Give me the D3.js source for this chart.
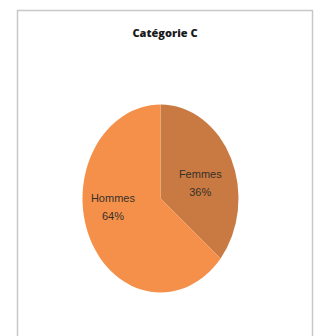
<!DOCTYPE html>
<html><head><meta charset="utf-8">
<script src="https://cdn.jsdelivr.net/npm/d3@7"></script>
<style>html,body{margin:0;padding:0;background:#fff;}svg{display:block;}</style>
</head><body>
<svg id="c" width="320" height="336"></svg>
<script>
const title = "Catégorie C";
const categories = ["Femmes", "Hommes"];
const values = [36, 64];
const colors = ["#C97A42", "#F5904A"];

const svg = d3.select("#c");
svg.append("rect").attr("x", 17.5).attr("y", 10.5).attr("width", 295).attr("height", 340)
  .attr("fill", "#fff").attr("stroke", "#c8c8c8").attr("stroke-width", 1.5);

svg.append("text").attr("x", 165).attr("y", 37).attr("text-anchor", "middle")
  .attr("font-family", "Open Sans, sans-serif").attr("font-weight", 800).attr("font-size", 11)
  .attr("fill", "#1a1a1a").text(title);

const cx = 160.5, cy = 198.5, rx = 78, ry = 94;
const pie = d3.pie().sort(null).value(d => d.v);
const arcs = pie(categories.map((c, i) => ({c, v: values[i], col: colors[i]})));
const arc = d3.arc().innerRadius(0).outerRadius(rx);
const g = svg.append("g").attr("transform", `translate(${cx},${cy}) scale(1,${ry/rx})`);
g.selectAll("path").data(arcs).join("path").attr("d", arc).attr("fill", d => d.data.col);

// label anchors, as fractions of the radii (Excel-like placement)
const labelFrac = [[0.51, -0.17], [-0.61, 0.09]];
const lg = svg.append("g").attr("transform", `translate(${cx},${cy})`);
arcs.forEach((d, i) => {
  const x = labelFrac[i][0] * rx, y = labelFrac[i][1] * ry;
  const t = lg.append("text").attr("text-anchor", "middle")
    .attr("font-family", "Liberation Sans Narrow, Liberation Sans, sans-serif").attr("font-size", 11)
    .attr("fill", "#35302a");
  t.append("tspan").attr("x", x).attr("y", y - 5).text(d.data.c);
  t.append("tspan").attr("x", x).attr("y", y + 13).text(d.data.v + "%");
});
</script>
</body></html>
